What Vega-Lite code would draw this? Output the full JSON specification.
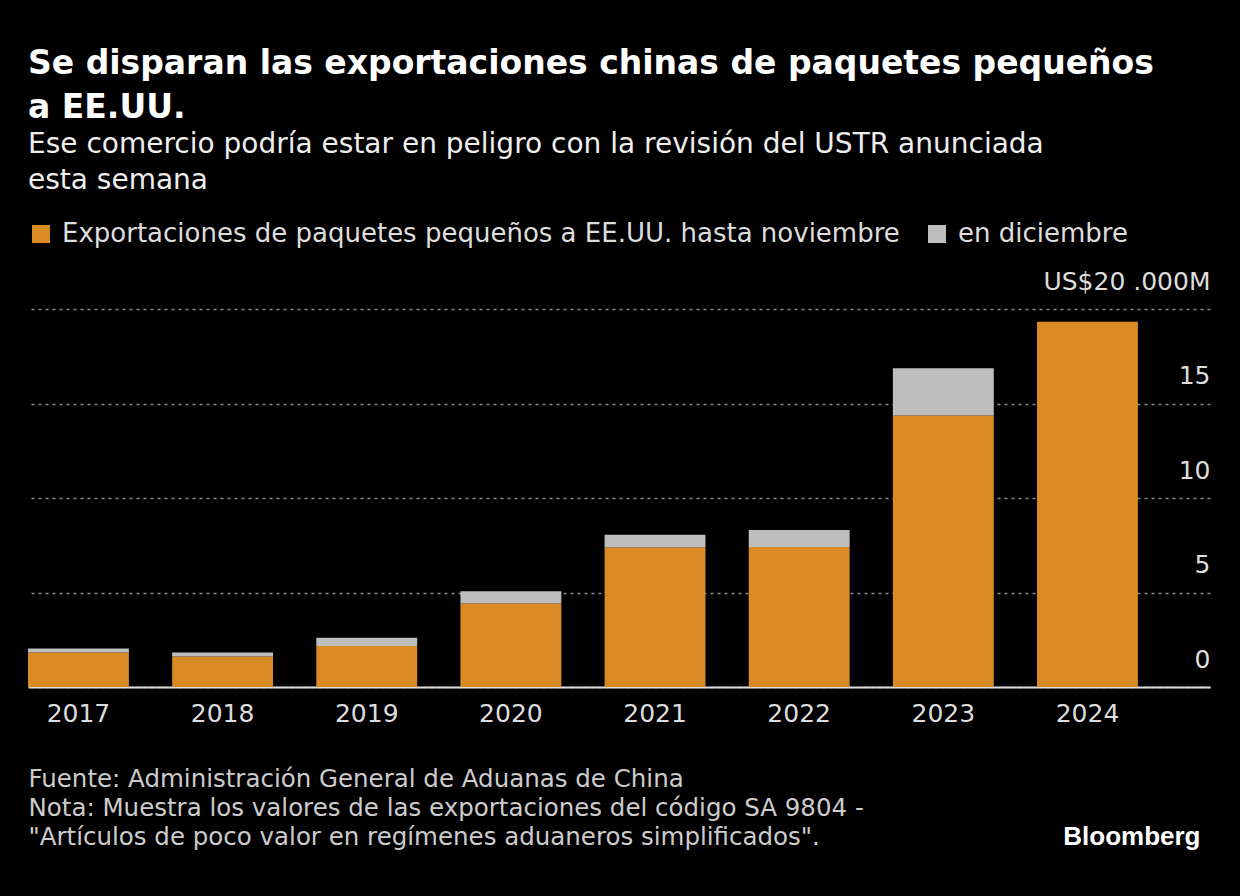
{
  "$schema": "https://vega.github.io/schema/vega-lite/v6.json",
  "autosize": {"type": "none"},
  "width": 1182,
  "height": 378,
  "padding": {"left": 28, "top": 309, "right": 30, "bottom": 209},
  "background": "#000000",
  "config": {
    "view": {"stroke": null},
    "font": "DejaVu Sans"
  },
  "title": {
    "text": ["Se disparan las exportaciones chinas de paquetes pequeños", "a EE.UU."],
    "subtitle": ["Ese comercio podría estar en peligro con la revisión del USTR anunciada", "esta semana"],
    "anchor": "start",
    "frame": "group",
    "offset": 26,
    "font": "DejaVu Sans",
    "fontSize": 33,
    "fontWeight": "bold",
    "color": "#ffffff",
    "lineHeight": 44,
    "subtitleFont": "DejaVu Sans",
    "subtitleFontSize": 28,
    "subtitleColor": "#eeeeee",
    "subtitleLineHeight": 36,
    "subtitlePadding": 6
  },
  "data": {
    "values": [
      {"year": "2017", "serie": "Exportaciones de paquetes pequeños a EE.UU. hasta noviembre", "value": 1.82},
      {"year": "2017", "serie": "en diciembre", "value": 0.22},
      {"year": "2018", "serie": "Exportaciones de paquetes pequeños a EE.UU. hasta noviembre", "value": 1.62},
      {"year": "2018", "serie": "en diciembre", "value": 0.21},
      {"year": "2019", "serie": "Exportaciones de paquetes pequeños a EE.UU. hasta noviembre", "value": 2.17},
      {"year": "2019", "serie": "en diciembre", "value": 0.44},
      {"year": "2020", "serie": "Exportaciones de paquetes pequeños a EE.UU. hasta noviembre", "value": 4.42},
      {"year": "2020", "serie": "en diciembre", "value": 0.65},
      {"year": "2021", "serie": "Exportaciones de paquetes pequeños a EE.UU. hasta noviembre", "value": 7.40},
      {"year": "2021", "serie": "en diciembre", "value": 0.65},
      {"year": "2022", "serie": "Exportaciones de paquetes pequeños a EE.UU. hasta noviembre", "value": 7.41},
      {"year": "2022", "serie": "en diciembre", "value": 0.90},
      {"year": "2023", "serie": "Exportaciones de paquetes pequeños a EE.UU. hasta noviembre", "value": 14.37},
      {"year": "2023", "serie": "en diciembre", "value": 2.50},
      {"year": "2024", "serie": "Exportaciones de paquetes pequeños a EE.UU. hasta noviembre", "value": 19.32}
    ]
  },
  "mark": {"type": "bar"},
  "encoding": {
    "x": {
      "field": "year",
      "type": "ordinal",
      "scale": {"paddingInner": 0.3, "paddingOuter": 0.25, "align": 0},
      "axis": {
        "labelAngle": 0,
        "labelFontSize": 25,
        "labelColor": "#dddddd",
        "labelPadding": 14,
        "ticks": false,
        "domainColor": "#dddddd",
        "domainWidth": 2,
        "title": ["Fuente: Administración General de Aduanas de China", "Nota: Muestra los valores de las exportaciones del código SA 9804 -", "\"Artículos de poco valor en regímenes aduaneros simplificados\"."],
        "titleAnchor": "start",
        "titleAlign": "left",
        "titleBaseline": "top",
        "titleX": 0,
        "titleY": 80,
        "titleFontSize": 24.5,
        "titleFontWeight": "normal",
        "titleColor": "#cccccc",
        "titleLineHeight": 29
      }
    },
    "y": {
      "field": "value",
      "type": "quantitative",
      "stack": "zero",
      "scale": {"domain": [0, 20], "nice": false},
      "axis": {
        "orient": "right",
        "values": [0, 5, 10, 15, 20],
        "labelExpr": "datum.value == 20 ? 'US$20 .000M' : datum.label",
        "labelAlign": "right",
        "labelBaseline": "alphabetic",
        "labelOffset": -20,
        "labelPadding": 0,
        "labelFontSize": 25,
        "labelColor": "#dddddd",
        "ticks": false,
        "domain": false,
        "grid": true,
        "gridColor": "#888888",
        "gridDash": [3, 4],
        "gridWidth": 1.5,
        "title": "Bloomberg",
        "titleFont": "Liberation Sans",
        "titleAngle": 0,
        "titleAlign": "right",
        "titleBaseline": "middle",
        "titleX": -10,
        "titleY": 527,
        "titleFontSize": 26,
        "titleFontWeight": "bold",
        "titleColor": "#ffffff"
      }
    },
    "color": {
      "field": "serie",
      "type": "nominal",
      "scale": {
        "domain": ["Exportaciones de paquetes pequeños a EE.UU. hasta noviembre", "en diciembre"],
        "range": ["#D98A25", "#BEBEBE"]
      },
      "legend": {
        "title": null,
        "orient": "none",
        "legendX": 0,
        "legendY": -88,
        "direction": "horizontal",
        "symbolType": "square",
        "symbolSize": 324,
        "symbolStrokeWidth": 0,
        "labelFontSize": 26,
        "labelColor": "#dddddd",
        "labelOffset": 8,
        "columnPadding": 24,
        "labelLimit": 1000
      }
    },
    "order": {"field": "serie", "sort": "ascending"}
  }
}
